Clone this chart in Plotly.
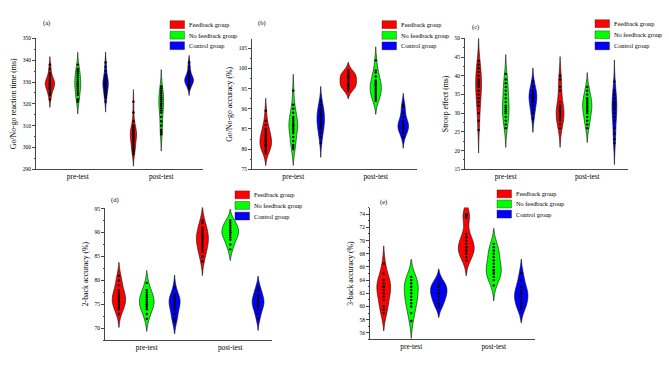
import plotly.graph_objects as go

W, H = 669, 369
FONT = "Liberation Serif"

phases = ["pre-test", "post-test"]
groups = ["Feedback group", "No feedback group", "Control group"]
colors = ["#ff0000", "#00ff00", "#0000ff"]

# ---- (a) Go/No-go reaction time (ms)
a_fb_pre = [322, 324, 325, 326, 327, 327, 328, 328, 329, 329, 329, 330, 330, 330, 331, 331, 332, 333, 334, 336, 338]
a_nf_pre = [321, 322, 322, 324, 325, 326, 327, 328, 328, 329, 329, 330, 330, 331, 332, 333, 334, 335, 335, 336, 338]
a_ct_pre = [321, 323, 324, 325, 326, 327, 328, 328, 329, 329, 330, 330, 331, 331, 332, 333, 335, 337, 339]
a_fb_post = [297, 298, 299, 300, 301, 302, 303, 304, 305, 305, 306, 306, 307, 307, 308, 308, 309, 310, 312, 316, 321]
a_nf_post = [306, 307, 308, 310, 312, 314, 316, 317, 318, 319, 320, 320, 321, 322, 322, 323, 324, 325, 326, 327, 328]
a_ct_post = [327, 328, 329, 330, 330, 330, 331, 331, 331, 332, 332, 333, 334, 335, 337, 339]

# ---- (b) Go/No-go accuracy (%)
b_fb_pre = [79, 79.5, 80, 80.5, 81, 81, 81.5, 82, 82, 82.5, 83, 83.5, 84, 84.5, 85, 86, 87, 89.5]
b_nf_pre = [80, 80.5, 81, 82, 83, 84, 84.5, 85, 85.5, 86, 86, 86.5, 87, 87.5, 88, 89, 90, 91, 94.5]
b_ct_pre = [81.5, 83, 84, 85, 85.5, 86, 86.5, 87, 87.5, 88, 88.5, 89, 89.5, 90, 91, 92]
b_fb_post = [94.5, 95, 95.5, 96, 96, 96.5, 97, 97.5, 98, 98, 98.5, 99, 99.5]
b_nf_post = [92, 92.5, 93, 93.5, 94, 94.5, 95, 95.5, 96, 96, 96.5, 97, 98, 99, 99.5, 102]
b_ct_post = [83, 84, 84.5, 85, 85.5, 85.5, 86, 86, 86.5, 87, 88, 89, 90.5, 91]

# ---- (c) Stroop effect (ms)
c_fb_pre = [25.5, 28, 30, 32, 33, 34, 35, 36, 37, 37.5, 38, 38.5, 39, 40, 41, 42, 43, 44]
c_nf_pre = [26, 27, 28, 29, 30, 30.5, 31, 31.5, 32, 33, 34, 35, 36, 37, 38, 39, 40.5]
c_ct_pre = [28.5, 30, 31, 32, 33, 33.5, 34, 34.5, 35, 35.5, 36, 37, 38.5]
c_fb_post = [26, 27, 28, 28.5, 29, 29.5, 30, 30.5, 31, 31.5, 32, 33, 36, 37, 39, 40]
c_nf_post = [26, 27, 28, 29, 30, 30.5, 31, 31.5, 32, 32.5, 33, 33.5, 34, 35, 36, 37]
c_ct_post = [22, 23, 24.5, 26, 28, 29, 30, 31, 31.5, 32, 32.5, 33, 34, 35, 36, 38.5]

# ---- (d) 2-back accuracy (%)
d_fb_pre = [73, 74, 74.5, 75, 75.5, 76, 76, 76.5, 77, 77.5, 78, 79, 80, 81]
d_nf_pre = [72, 73, 74, 74.5, 75, 75, 75.5, 76, 76.5, 77, 77.5, 78, 79.5]
d_ct_pre = [71.5, 72, 73, 74, 74.5, 75, 75.5, 76, 76, 76.5, 77, 78.5]
d_fb_post = [84, 85, 86, 86.5, 87, 87.5, 88, 88.5, 89, 89, 89.5, 90, 90.5, 91, 92, 92.5]
d_nf_post = [86.5, 87.5, 88.5, 89, 89.5, 90, 90, 90.5, 91, 91.5, 92, 92.5]
d_ct_post = [72, 73, 74, 74.5, 75, 75.5, 75.5, 76, 76.5, 77, 78, 78.5]

# ---- (e) 3-back accuracy (%)
e_fb_pre = [59, 59.5, 60, 61, 61.5, 62, 62.5, 63, 63, 63.5, 64, 64, 65, 66.5]
e_nf_pre = [57.8, 59, 60, 60.5, 61, 61.5, 62, 62.5, 63, 63.5, 64, 64, 64.5]
e_ct_pre = [60, 60.5, 61, 61.5, 62, 62, 62.5, 63, 63, 63.5, 64]
e_fb_post = [67, 67.5, 68, 68.5, 68.5, 69, 69, 69.5, 70, 70.5, 71, 73.5, 73.8, 74]
e_nf_post = [63.2, 64, 64.5, 65, 65, 65.5, 65.5, 66, 66.5, 67, 67.5, 68, 68.5, 69, 69.5]
e_ct_post = [59.7, 60, 60.5, 61, 61.5, 62, 62, 62.5, 63, 64, 65]

panel_labels = ["(a)", "(b)", "(c)", "(d)", "(e)"]
y_titles = ["Go/No-go reaction time (ms)", "Go/No-go accuracy (%)", "Stroop effect (ms)",
            "2-back accuracy (%)", "3-back accuracy (%)"]
y_ranges = [[290, 350], [75, 107.2], [15, 50], [67.5, 95.2], [55, 75]]
y_dticks = [10, 5, 5, 5, 2]
y_tick0 = [290, 75, 15, 70, 56]

panels = [
    [(a_fb_pre, a_fb_post), (a_nf_pre, a_nf_post), (a_ct_pre, a_ct_post)],
    [(b_fb_pre, b_fb_post), (b_nf_pre, b_nf_post), (b_ct_pre, b_ct_post)],
    [(c_fb_pre, c_fb_post), (c_nf_pre, c_nf_post), (c_ct_pre, c_ct_post)],
    [(d_fb_pre, d_fb_post), (d_nf_pre, d_nf_post), (d_ct_pre, d_ct_post)],
    [(e_fb_pre, e_fb_post), (e_nf_pre, e_nf_post), (e_ct_pre, e_ct_post)],
]

# plot-area boxes in pixels: (left, right, top, bottom)
boxes = [(36, 203, 36, 169), (252, 417, 37, 169), (465, 628, 36, 169),
         (105, 272, 208, 343), (370, 535, 208, 342)]
# legend anchor: (patch left x, first row y, row step) in pixels
legend_pos = [(170, 22, 10.7), (382, 22, 10.8), (595, 21, 11.3), (235, 195, 10.8), (497, 194, 10.3)]
label_pos = [(46, 20), (262, 20), (475, 24), (115, 200), (383, 202)]


def px(x):
    return x / W


def py(y):
    return 1 - y / H


fig = go.Figure()
layout = dict(
    width=W, height=H, margin=dict(l=0, r=0, t=0, b=0),
    paper_bgcolor="white", plot_bgcolor="white",
    violinmode="group", violingap=0, violingroupgap=0.4,
    showlegend=False,
    font=dict(family=FONT, size=7, color="black"),
)
shapes, annotations = [], []

for p, data in enumerate(panels):
    sfx = "" if p == 0 else str(p + 1)
    for g, (pre, post) in enumerate(data):
        fig.add_trace(go.Violin(
            x=[phases[0]] * len(pre) + [phases[1]] * len(post),
            y=list(pre) + list(post),
            name=groups[g], legendgroup=groups[g],
            offsetgroup=str(g), alignmentgroup="panel" + str(p),
            xaxis="x" + sfx, yaxis="y" + sfx,
            fillcolor=colors[g], opacity=1,
            line=dict(color="#111111", width=0.6),
            points="all", pointpos=0, jitter=0,
            marker=dict(color="black", size=2.4),
            box_visible=False, meanline_visible=False,
            spanmode="soft", scalemode="width",
            hoveron="violins+points",
        ))
    l, r, t, b = boxes[p]
    layout["xaxis" + sfx] = dict(
        domain=[px(l), px(r)], anchor="y" + sfx, type="category",
        categoryorder="array", categoryarray=phases, range=[-0.5, 1.5],
        showline=True, linecolor="#444", linewidth=1, ticks="",
        showgrid=False, zeroline=False, tickfont=dict(size=7.3),
    )
    layout["yaxis" + sfx] = dict(
        domain=[py(b), py(t)], anchor="x" + sfx, range=y_ranges[p],
        tick0=y_tick0[p], dtick=y_dticks[p],
        showline=True, linecolor="#444", linewidth=1,
        ticks="outside", ticklen=3, tickwidth=0.8, tickcolor="#444",
        minor=dict(ticks="outside", ticklen=1.5, tickwidth=0.6, tickcolor="#444",
                   dtick=y_dticks[p] / 2),
        showgrid=False, zeroline=False, tickfont=dict(size=5.5),
        title=dict(text=y_titles[p], font=dict(size=7.8), standoff=4),
    )
    # panel label
    lx, ly = label_pos[p]
    annotations.append(dict(x=px(lx), y=py(ly), xref="paper", yref="paper",
                            text=panel_labels[p], showarrow=False,
                            font=dict(size=6.5), xanchor="center", yanchor="middle"))
    # legend (patch + text)
    gx, gy, step = legend_pos[p]
    for g in range(3):
        yc = gy + g * step
        shapes.append(dict(type="rect", xref="paper", yref="paper",
                           x0=px(gx), x1=px(gx + 14.5), y0=py(yc + 4), y1=py(yc - 4),
                           fillcolor=colors[g], line=dict(color="#222", width=0.4)))
        annotations.append(dict(x=px(gx + 17), y=py(yc), xref="paper", yref="paper",
                                text=groups[g], showarrow=False,
                                font=dict(size=6.3), xanchor="left", yanchor="middle"))

layout["shapes"] = shapes
layout["annotations"] = annotations
fig.update_layout(**layout)
fig.write_html("out.html", config={"displayModeBar": False},
               post_script="document.body.style.margin='0';document.body.style.overflow='hidden';")
